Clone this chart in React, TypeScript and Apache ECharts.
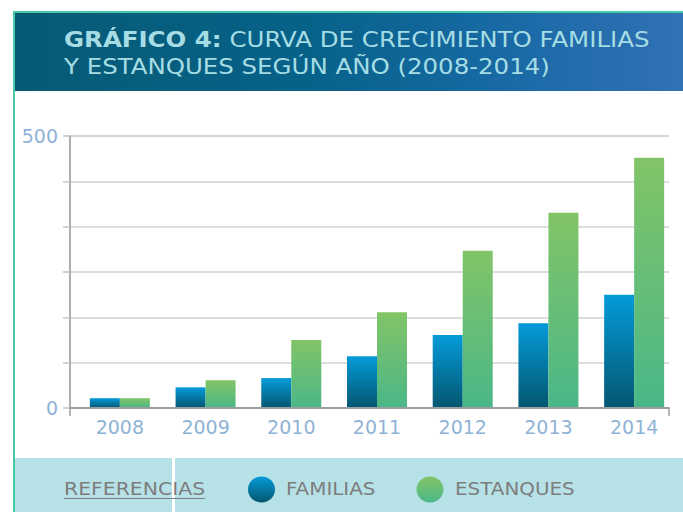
import React, { useEffect, useRef } from "react";
import * as echarts from "echarts";

const YEARS = ["2008", "2009", "2010", "2011", "2012", "2013", "2014"];
const SERIES_NAMES = ["FAMILIAS", "ESTANQUES"];
const FAMILIAS = [18, 38, 55, 95, 134, 156, 208];
const ESTANQUES = [18, 51, 125, 176, 289, 359, 460];
const Y_LABELS = ["0", "500"];
const TITLE_BOLD = "GRÁFICO 4:";
const TITLE_REST = " CURVA DE CRECIMIENTO FAMILIAS\nY ESTANQUES SEGÚN AÑO (2008-2014)";
const REF_LABEL = "REFERENCIAS";

const FONT = "'DejaVu Sans', sans-serif";

const famGrad = () =>
  new echarts.graphic.LinearGradient(0, 0, 0, 1, [
    { offset: 0, color: "#049bd9" },
    { offset: 1, color: "#04566f" },
  ]);
const estGrad = () =>
  new echarts.graphic.LinearGradient(0, 0, 0, 1, [
    { offset: 0, color: "#82c467" },
    { offset: 1, color: "#4ab788" },
  ]);

export default function App() {
  const ref = useRef<HTMLDivElement>(null);
  useEffect(() => {
    if (!ref.current) return;
    const chart = echarts.init(ref.current, null, { renderer: "svg" });
    const yMax = 500;
    const yInterval = yMax / 6;
    chart.setOption({
      animation: false,
      backgroundColor: "#ffffff",
      grid: [
        { left: 70, right: 14, top: 136, bottom: 104, containLabel: false },
        { left: 77, right: 6, top: 136, bottom: 104, containLabel: false },
      ],
      xAxis: [
        {
          type: "value",
          gridIndex: 0,
          min: 0,
          max: 1,
          interval: 1,
          axisLine: { show: true, onZero: false, lineStyle: { color: "#9a9ea3", width: 2 } },
          axisTick: { show: true, length: 8, lineStyle: { color: "#9a9ea3", width: 1.5 } },
          axisLabel: { show: false },
          splitLine: { show: false },
          z: 3,
        },
        {
          type: "category",
          gridIndex: 1,
          data: YEARS,
          axisLine: { show: false },
          axisTick: { show: false },
          axisLabel: { color: "#8fb3d6", fontSize: 19, fontFamily: FONT, margin: 9 },
        },
      ],
      yAxis: [
        {
          type: "value",
          gridIndex: 0,
          min: 0,
          max: yMax,
          interval: yInterval,
          axisLine: { show: true, lineStyle: { color: "#8f9499", width: 1.5 } },
          axisTick: { show: true, length: 7, lineStyle: { color: "#c4c4c4", width: 1.5 } },
          splitLine: { lineStyle: { color: "#d2d2d2", width: 1.5 } },
          axisLabel: {
            color: "#8fb3d6",
            fontSize: 19,
            fontFamily: FONT,
            margin: 12,
            formatter: (v: number) => {
              const found = Y_LABELS.find((l) => Math.abs(Number(l) - v) < 1e-6);
              return found ?? "";
            },
          },
        },
        {
          type: "value",
          gridIndex: 1,
          min: 0,
          max: yMax,
          show: false,
          splitLine: { show: false },
        },
      ],
      series: [
        {
          name: SERIES_NAMES[0],
          type: "bar",
          xAxisIndex: 1,
          yAxisIndex: 1,
          data: FAMILIAS,
          barGap: "0%",
          barCategoryGap: "30%",
          itemStyle: { color: famGrad() },
        },
        {
          name: SERIES_NAMES[1],
          type: "bar",
          xAxisIndex: 1,
          yAxisIndex: 1,
          data: ESTANQUES,
          barGap: "0%",
          barCategoryGap: "30%",
          itemStyle: { color: estGrad() },
        },
      ],
      graphic: [
        {
          type: "rect",
          shape: { x: 13, y: 12, width: 670, height: 79 },
          style: {
            fill: new echarts.graphic.LinearGradient(0, 0, 1, 0, [
              { offset: 0, color: "#065a73" },
              { offset: 0.45, color: "#07628a" },
              { offset: 0.75, color: "#1a6aa6" },
              { offset: 1, color: "#3171b5" },
            ]),
          },
          z: -10,
        },
        {
          type: "rect",
          shape: { x: 13, y: 11, width: 670, height: 2 },
          style: { fill: "#45c9a8" },
          z: -5,
        },
        {
          type: "rect",
          shape: { x: 13, y: 11, width: 2, height: 501 },
          style: { fill: "#45c9a8" },
          z: -5,
        },
        {
          type: "text",
          x: 64,
          y: 26,
          scaleX: 1.165,
          style: {
            text: "{b|" + TITLE_BOLD + "}" + TITLE_REST,
            fontFamily: FONT,
            fontSize: 21,
            lineHeight: 27,
            fill: "#a6dde4",
            rich: {
              b: { fontFamily: FONT, fontSize: 21, fontWeight: "bold", fill: "#a6dde4", lineHeight: 27 },
            },
          },
          z: 5,
        },
        {
          type: "rect",
          shape: { x: 15, y: 458, width: 157, height: 54 },
          style: { fill: "#b6e1e7" },
          z: -10,
        },
        {
          type: "rect",
          shape: { x: 175, y: 458, width: 508, height: 54 },
          style: { fill: "#b6e1e7" },
          z: -10,
        },
        {
          type: "text",
          x: 64,
          y: 489,
          scaleX: 1.2,
          style: {
            text: REF_LABEL,
            fontFamily: FONT,
            fontSize: 17,
            fill: "#7d7d7d",
            verticalAlign: "middle",
          },
          z: 5,
        },
        {
          type: "line",
          shape: { x1: 64, y1: 498.5, x2: 205, y2: 498.5 },
          style: { stroke: "#7d7d7d", lineWidth: 1 },
          z: 5,
        },
        {
          type: "ellipse",
          shape: { cx: 261.5, cy: 489.5, rx: 13.5, ry: 13 },
          style: { fill: famGrad() },
          z: 5,
        },
        {
          type: "text",
          x: 286,
          y: 489,
          scaleX: 1.17,
          style: {
            text: SERIES_NAMES[0],
            fontFamily: FONT,
            fontSize: 17,
            fill: "#7d7d7d",
            verticalAlign: "middle",
          },
          z: 5,
        },
        {
          type: "ellipse",
          shape: { cx: 430, cy: 489.5, rx: 13.5, ry: 13 },
          style: { fill: estGrad() },
          z: 5,
        },
        {
          type: "text",
          x: 455,
          y: 489,
          scaleX: 1.17,
          style: {
            text: SERIES_NAMES[1],
            fontFamily: FONT,
            fontSize: 17,
            fill: "#7d7d7d",
            verticalAlign: "middle",
          },
          z: 5,
        },
      ],
    });
    return () => chart.dispose();
  }, []);
  return (
    <div
      ref={ref}
      style={{ position: "fixed", left: 0, top: 0, width: 683, height: 512 }}
    />
  );
}
